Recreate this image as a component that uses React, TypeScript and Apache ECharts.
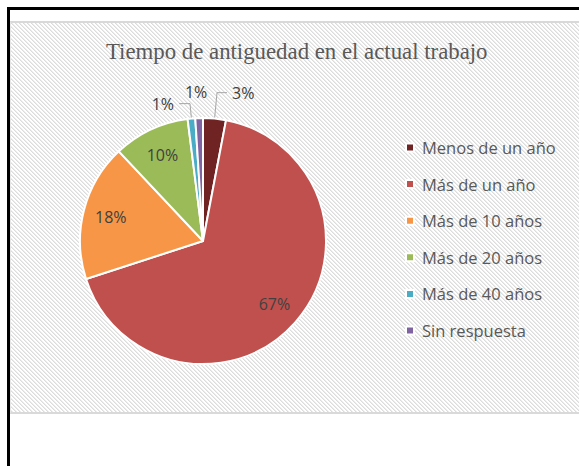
import React, { useEffect, useRef } from "react";
import * as echarts from "echarts";

const titleText = "Tiempo de antiguedad en el actual trabajo";
const categories = [
  "Menos de un año",
  "Más de un año",
  "Más de 10 años",
  "Más de 20 años",
  "Más de 40 años",
  "Sin respuesta",
];
const values = [3, 67, 18, 10, 1, 1];
const colors = ["#6f2322", "#c0504d", "#f79646", "#9bbb59", "#4bacc6", "#8064a2"];
const outsideLabel = [true, false, false, false, true, true];

const FONT = "'Open Sans', 'Noto Sans', sans-serif";
const R = 123;

const hatchSvg =
  "<svg xmlns='http://www.w3.org/2000/svg' width='4' height='4' shape-rendering='crispEdges'>" +
  "<rect width='4' height='4' fill='#ffffff'/>" +
  "<rect x='0' y='0' width='1' height='1' fill='#dcdcdc'/>" +
  "<rect x='1' y='1' width='1' height='1' fill='#dcdcdc'/>" +
  "<rect x='2' y='2' width='1' height='1' fill='#dcdcdc'/>" +
  "<rect x='3' y='3' width='1' height='1' fill='#dcdcdc'/>" +
  "<rect x='1' y='0' width='1' height='1' fill='#ececec'/>" +
  "<rect x='2' y='1' width='1' height='1' fill='#ececec'/>" +
  "<rect x='3' y='2' width='1' height='1' fill='#ececec'/>" +
  "<rect x='0' y='3' width='1' height='1' fill='#ececec'/>" +
  "</svg>";
const hatchUrl = `url("data:image/svg+xml;utf8,${encodeURIComponent(hatchSvg)}")`;

export default function App() {
  const ref = useRef<HTMLDivElement>(null);
  useEffect(() => {
    if (!ref.current) return;
    const chart = echarts.init(ref.current, undefined, { renderer: "svg" });
    const mainData = categories.map((name, i) => ({
      name,
      value: values[i],
      itemStyle: { color: colors[i] },
    }));
    const lineLen = [26, 0, 0, 0, 15, 26];
    const lineLen2 = [10, 0, 0, 0, 11, 0];
    const labelData = categories.map((name, i) => ({
      name,
      value: values[i],
      itemStyle: { color: "rgba(0,0,0,0)", borderWidth: 0 },
      label: outsideLabel[i]
        ? { show: true, position: "outside" }
        : { show: true, position: "inside" },
      labelLine: {
        show: outsideLabel[i] && i !== 5,
        length: lineLen[i],
        length2: lineLen2[i],
      },
    }));
    chart.setOption({
      animation: false,
      backgroundColor: "transparent",
      title: {
        text: titleText,
        left: 101,
        top: 35,
        textStyle: {
          fontFamily: "'Liberation Serif', 'Times New Roman', serif",
          fontSize: 22.8,
          fontWeight: "normal",
          color: "#595959",
        },
      },
      legend: {
        orient: "vertical",
        left: 405,
        top: 139,
        padding: 0,
        itemWidth: 8,
        itemHeight: 8,
        itemGap: 19.6,
        icon: "rect",
        data: categories,
        textStyle: {
          fontFamily: FONT,
          fontSize: 16.5,
          lineHeight: 16,
          color: "#595959",
          padding: [0, 0, 0, 3],
        },
      },
      series: [
        {
          type: "pie",
          center: [203, 241],
          radius: [0, R],
          startAngle: 90,
          clockwise: true,
          silent: true,
          label: { show: false },
          labelLine: { show: false },
          itemStyle: { borderColor: "#ffffff", borderWidth: 2 },
          data: mainData,
        },
        {
          type: "pie",
          center: [203, 241],
          radius: [R / 2, R],
          startAngle: 90,
          clockwise: true,
          silent: true,
          avoidLabelOverlap: false,
          label: {
            fontFamily: FONT,
            fontSize: 16,
            color: "#404040",
            formatter: "{c}%",
          },
          labelLine: {
            lineStyle: { color: "#a6a6a6", width: 1 },
          },
          labelLayout: (p: any) => (p.dataIndex === 5 ? { dx: 14 } : {}),
          data: labelData,
        },
      ],
    });
    return () => chart.dispose();
  }, []);

  return (
    <div style={{ position: "absolute", left: 0, top: 0, width: 579, height: 466, background: "#fff" }}>
      <div
        style={{
          position: "absolute",
          left: 7,
          top: 7,
          width: 590,
          height: 470,
          borderLeft: "3px solid #000",
          borderTop: "3px solid #000",
        }}
      />
      <div
        style={{
          position: "absolute",
          left: 10,
          top: 21,
          width: 580,
          height: 389,
          borderTop: "2px solid #d9d9d9",
          borderBottom: "2px solid #d9d9d9",
          borderLeft: "1px solid #e6e6e6",
          backgroundImage: hatchUrl,
          backgroundRepeat: "repeat",
        }}
      />
      <div ref={ref} style={{ position: "absolute", left: 0, top: 0, width: 579, height: 466 }} />
    </div>
  );
}
